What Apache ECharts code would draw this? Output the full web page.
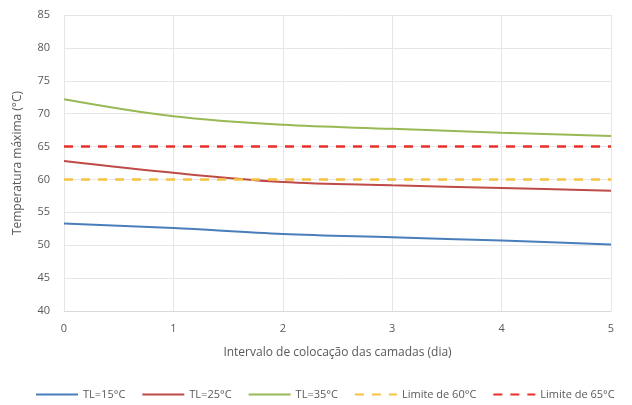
<!DOCTYPE html>
<html>
<head>
<meta charset="utf-8">
<script src="https://cdn.jsdelivr.net/npm/echarts@6/dist/echarts.min.js"></script>
<style>
  html, body { margin: 0; padding: 0; background: #fff; }
  #chart { width: 632px; height: 405px; }
</style>
</head>
<body>
<div id="chart"></div>
<script>
// Intervalo de colocação das camadas (dia)
const intervals = [0, 1, 2, 3, 4, 5];
// Temperatura máxima (°C) para cada temperatura de lançamento
const tl15 = [53.3, 52.6, 51.7, 51.2, 50.7, 50.1];
const tl25 = [62.8, 61.0, 59.6, 59.1, 58.7, 58.3];
const tl35 = [72.2, 69.6, 68.3, 67.7, 67.1, 66.6];
// Limites de temperatura
const limit60 = [60, 60];
const limit65 = [65, 65];
const limitX = [0, 5];

const seriesNames = ['TL=15°C', 'TL=25°C', 'TL=35°C', 'Limite de 60°C', 'Limite de 65°C'];
const colors = ['#4a7ebb', '#be4b48', '#98b954', '#f5c242', '#e8302a'];

const pairs = (xs, ys) => xs.map((x, i) => [x, ys[i]]);

const chart = echarts.init(document.getElementById('chart'));
const font = 'Open Sans, Noto Sans, sans-serif';

chart.setOption({
  animation: false,
  textStyle: { fontFamily: font },
  grid: { left: 64, right: 21, top: 15, bottom: 94 },
  xAxis: {
    type: 'value', min: 0, max: 5, interval: 1,
    name: 'Intervalo de colocação das camadas (dia)',
    nameLocation: 'middle', nameGap: 36,
    nameTextStyle: { color: '#595959', fontSize: 12, fontFamily: font },
    axisLine: { show: true, lineStyle: { color: '#d9d9d9' } },
    axisTick: { show: false },
    axisLabel: { color: '#595959', fontSize: 11, margin: 12 },
    splitLine: { show: true, lineStyle: { color: '#e6e6e6' } }
  },
  yAxis: {
    type: 'value', min: 40, max: 85, interval: 5,
    name: 'Temperatura máxima (°C)',
    nameLocation: 'middle', nameGap: 40,
    nameTextStyle: { color: '#595959', fontSize: 12, fontFamily: font },
    axisLine: { show: false },
    axisTick: { show: false },
    axisLabel: { color: '#595959', fontSize: 11, margin: 14 },
    splitLine: { show: true, lineStyle: { color: '#e6e6e6' } }
  },
  legend: {
    bottom: 0, left: 30,
    itemWidth: 42, itemHeight: 10, itemGap: 16,
    itemStyle: { opacity: 0 },
    textStyle: { color: '#595959', fontSize: 11 },
    data: seriesNames
  },
  series: [
    { name: seriesNames[0], type: 'line', smooth: 0.35, showSymbol: false, symbol: 'none',
      data: pairs(intervals, tl15), color: colors[0], lineStyle: { width: 2 } },
    { name: seriesNames[1], type: 'line', smooth: 0.35, showSymbol: false, symbol: 'none',
      data: pairs(intervals, tl25), color: colors[1], lineStyle: { width: 2 } },
    { name: seriesNames[2], type: 'line', smooth: 0.35, showSymbol: false, symbol: 'none',
      data: pairs(intervals, tl35), color: colors[2], lineStyle: { width: 2 } },
    { name: seriesNames[3], type: 'line', showSymbol: false, symbol: 'none',
      data: pairs(limitX, limit60), color: colors[3],
      lineStyle: { width: 2.5, type: [9, 8] } },
    { name: seriesNames[4], type: 'line', showSymbol: false, symbol: 'none',
      data: pairs(limitX, limit65), color: colors[4],
      lineStyle: { width: 2.5, type: [9, 8] } }
  ]
});
</script>
</body>
</html>
